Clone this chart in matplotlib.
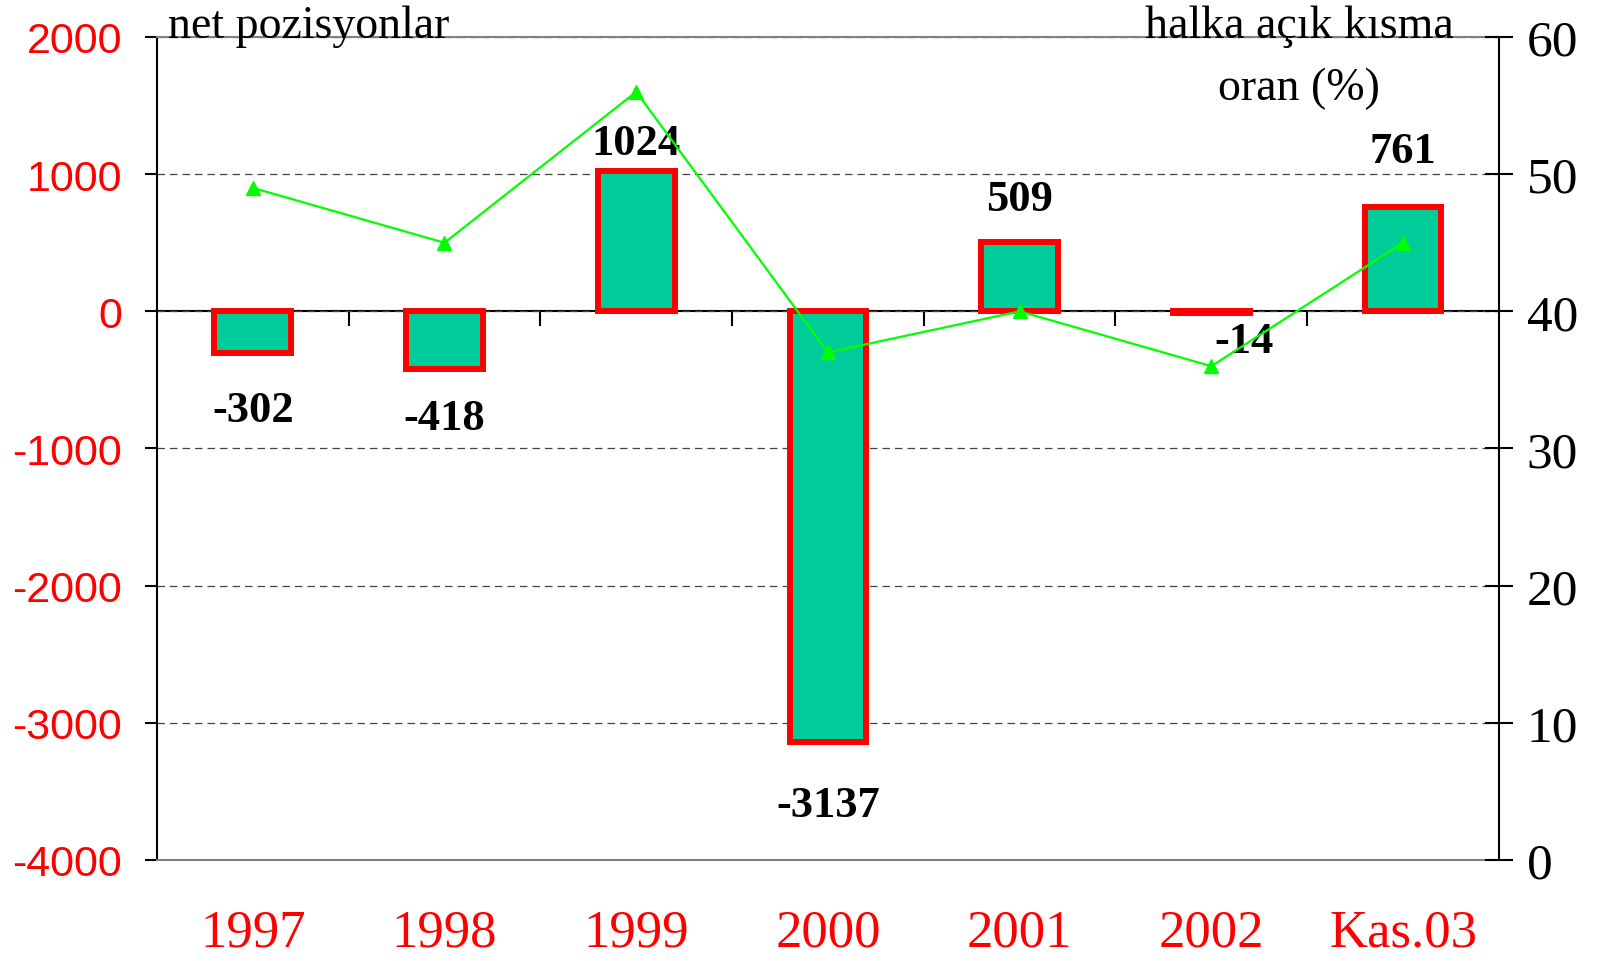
import numpy as np
import matplotlib.pyplot as plt

plt.rcParams['axes.unicode_minus'] = False

categories = ["1997", "1998", "1999", "2000", "2001", "2002", "Kas.03"]
net_positions = [-302, -418, 1024, -3137, 509, -14, 761]
short_ratio = [49, 45, 56, 37, 40, 36, 45]

# label placement relative to bar end (data units) and sideways shift
label_dy = [-420, -360, 200, -460, 310, -200, 405]
label_dx = [0, 0, 0, 0, 0, 0.17, 0]

serif = "Liberation Serif"
sans = "Liberation Sans"

fig = plt.figure(figsize=(15.98, 9.62), dpi=100)
ax = fig.add_axes([0.0982, 0.105, 0.8398, 0.8555])

x = np.arange(len(categories))
ax.bar(x, net_positions, width=0.4, color="#00CC99", edgecolor="#FF0000",
       linewidth=4.3, zorder=2)

ax.set_xlim(-0.5, 6.5)
ax.set_ylim(-4000, 2000)
yt = list(range(-4000, 2001, 1000))
ax.set_yticks(yt)
ax.set_yticklabels([str(v) for v in yt], family=sans, fontsize=31, color="#FF0000")
ax.tick_params(axis='y', direction='out', length=9, width=1.5, pad=16)
ax.set_axisbelow(True)
ax.grid(axis='y', linestyle=(0, (6, 4)), color="#444444", linewidth=0.9)

ax.set_xticks(x)
ax.set_xticklabels(categories, family=serif, fontsize=38, color="#FF0000")
ax.tick_params(axis='x', length=0, pad=35)

for s in ("top", "bottom"):
    ax.spines[s].set_color("#808080")
    ax.spines[s].set_linewidth(1.5)
ax.spines["left"].set_linewidth(1.5)
ax.spines["right"].set_visible(False)

# zero line with category separators
sec = ax.secondary_xaxis(4000 / 6000)
sec.xaxis.set_ticks_position('bottom')
sec.set_xticks(np.arange(0.5, len(categories) - 1, 1))
sec.tick_params(axis='x', direction='out', length=11, width=1.5,
                labelbottom=False, labeltop=False)
for s in ("top", "bottom"):
    sec.spines[s].set_color("black")
    sec.spines[s].set_linewidth(1.5)

for i, v in enumerate(net_positions):
    ax.text(x[i] + label_dx[i], v + label_dy[i], str(v), ha='center', va='center',
            family=serif, fontweight='bold', fontsize=32, zorder=5)

ax2 = ax.twinx()
ax2.plot(x, short_ratio, color="#00FF00", linewidth=1.6, marker='^', markersize=10)
ax2.set_ylim(0, 60)
ax2.set_yticks(range(0, 61, 10))
ax2.set_yticklabels([str(v) for v in range(0, 61, 10)], family=serif, fontsize=37)
ax2.tick_params(axis='y', direction='inout', length=20, width=1.5, pad=10)
for s in ("top", "bottom", "left"):
    ax2.spines[s].set_visible(False)
ax2.spines["right"].set_linewidth(1.5)

ax.text(0.008, 1.0, "net pozisyonlar", transform=ax.transAxes, ha='left',
        va='baseline', family=serif, fontsize=33)
ax.text(0.851, 1.0, "halka açık kısma", transform=ax.transAxes, ha='center',
        va='baseline', family=serif, fontsize=33)
ax.text(0.851, 0.9247, "oran (%)", transform=ax.transAxes, ha='center',
        va='baseline', family=serif, fontsize=33)

plt.savefig("out.png", dpi=100)
